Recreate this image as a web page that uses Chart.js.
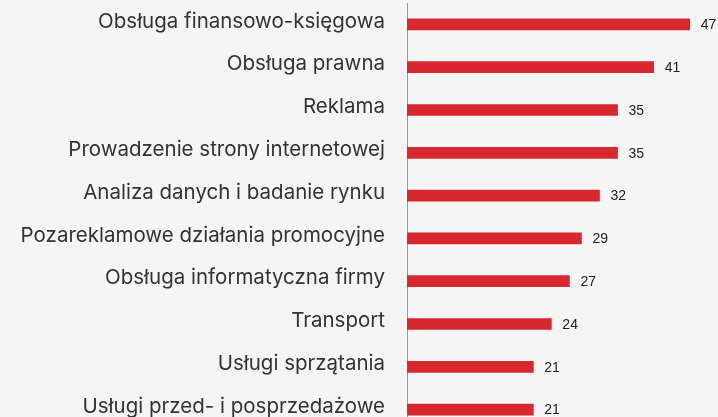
<!DOCTYPE html>
<html>
<head>
<meta charset="utf-8">
<script src="https://cdn.jsdelivr.net/npm/chart.js@4"></script>
<style>
  html, body { margin: 0; padding: 0; background: #f5f5f5; overflow: hidden; }
  #chart { display: block; }
</style>
</head>
<body>
<canvas id="chart" width="718" height="431"></canvas>
<script>
var categories = [
  "Obsługa finansowo-księgowa",
  "Obsługa prawna",
  "Reklama",
  "Prowadzenie strony internetowej",
  "Analiza danych i badanie rynku",
  "Pozareklamowe działania promocyjne",
  "Obsługa informatyczna firmy",
  "Transport",
  "Usługi sprzątania",
  "Usługi przed- i posprzedażowe"
];
var values = [47, 41, 35, 35, 32, 29, 27, 24, 21, 21];

var valueLabels = {
  id: 'valueLabels',
  afterDatasetsDraw: function(chart) {
    var ctx = chart.ctx;
    var meta = chart.getDatasetMeta(0);
    ctx.save();
    ctx.font = '14px "Liberation Sans", sans-serif';
    ctx.fillStyle = '#222';
    ctx.textAlign = 'left';
    ctx.textBaseline = 'middle';
    meta.data.forEach(function(bar, i) {
      ctx.fillText(values[i], bar.x + 11, bar.y + 1);
    });
    ctx.restore();
  }
};

new Chart(document.getElementById('chart'), {
  type: 'bar',
  data: {
    labels: categories,
    datasets: [{
      data: values,
      backgroundColor: '#d8272f',
      barThickness: 11
    }]
  },
  options: {
    indexAxis: 'y',
    responsive: false,
    animation: false,
    layout: { padding: { top: 3, right: 0, bottom: 0, left: 0 } },
    plugins: { legend: { display: false }, tooltip: { enabled: false } },
    scales: {
      x: { display: false, min: 0, max: 51.7 },
      y: {
        afterFit: function(scale) {
          scale.width = 407;
          scale.paddingTop = 0;
          scale.paddingBottom = 0;
        },
        grid: { display: false, drawTicks: false },
        border: { display: true, color: '#999', dash: [1, 1], width: 1 },
        ticks: {
          padding: 22,
          labelOffset: -3,
          color: '#333',
          font: { family: 'Inter', size: 20.5 }
        }
      }
    }
  },
  plugins: [valueLabels]
});
</script>
</body>
</html>
